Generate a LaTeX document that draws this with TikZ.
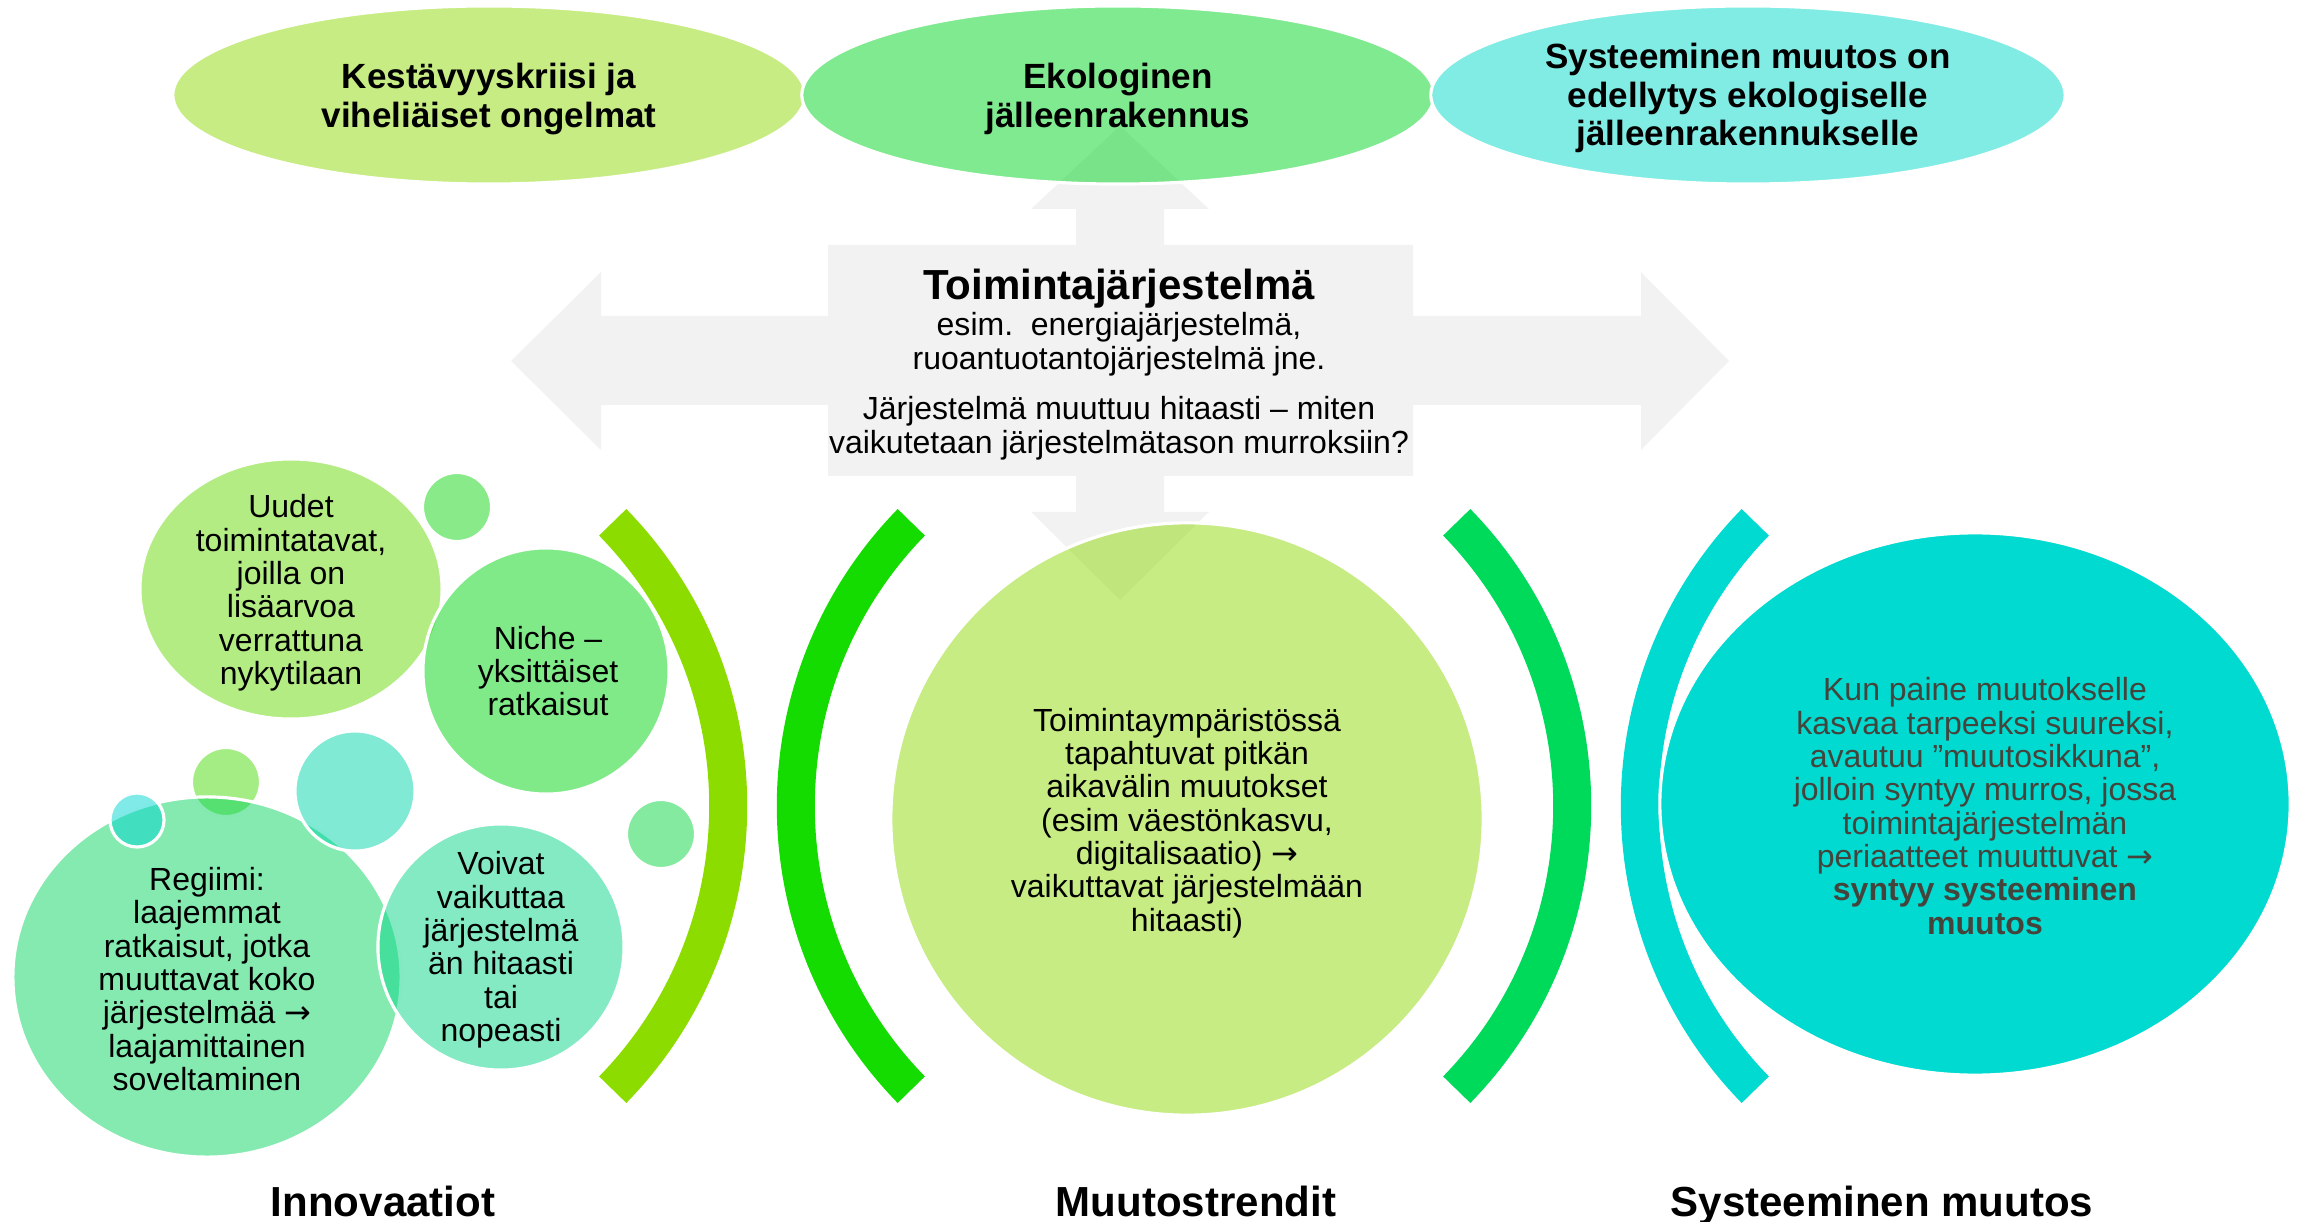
\documentclass[tikz,border=0pt]{standalone}
\usepackage{fontspec}
\setmainfont{Liberation Sans}
\newfontfamily\arrowfont{DejaVu Sans}
\newcommand\toarrow{{\arrowfont →}}
\usetikzlibrary{calc}
\definecolor{crossgray}{RGB}{242,242,242}
\definecolor{limefill}{RGB}{145,217,9}
\definecolor{greenfill}{RGB}{1,213,33}
\definecolor{aquafill}{RGB}{1,217,201}
\definecolor{newfill}{RGB}{105,217,9}
\definecolor{nichefill}{RGB}{1,213,17}
\definecolor{regimefill}{RGB}{9,213,97}
\definecolor{impactfill}{RGB}{9,213,137}
\definecolor{dotgreen}{RGB}{17,213,17}
\definecolor{dotlime}{RGB}{73,217,9}
\definecolor{dotcyan}{RGB}{1,213,209}
\definecolor{dotaqua}{RGB}{1,213,169}
\definecolor{dotmint}{RGB}{9,213,65}
\definecolor{arcone}{RGB}{140,220,0}
\definecolor{arctwo}{RGB}{20,220,0}
\definecolor{arcthree}{RGB}{0,218,90}
\definecolor{arcfour}{RGB}{0,218,208}
\definecolor{darktext}{RGB}{68,68,60}

\begin{document}
\begin{tikzpicture}[x=0.01cm, y=-0.01cm,
    bubble/.style = {fill opacity=0.5, draw=white, line width=0.9pt},
    toptext/.style = {align=center, font=\bfseries\fontsize{9.96}{10.9}\selectfont},
    boxtext/.style = {align=center, font=\fontsize{9.1}{9.7}\selectfont},
    bodytext/.style = {align=center, font=\fontsize{9.1}{9.48}\selectfont},
    heading/.style = {font=\bfseries\fontsize{11.95}{13}\selectfont}]

  \useasboundingbox (0,0) rectangle (2303,1222);

  \fill[crossgray] (511,361) -- (601,272) -- (601,316) -- (828,316) -- (828,245)
    -- (1076,245) -- (1076,209) -- (1031,209) -- (1120,126) -- (1209,209)
    -- (1164,209) -- (1164,245) -- (1413,245) -- (1413,316) -- (1641,316)
    -- (1641,272) -- (1729,361) -- (1641,450) -- (1641,405) -- (1413,405)
    -- (1413,476) -- (1164,476) -- (1164,512) -- (1209,512) -- (1120,600)
    -- (1031,512) -- (1076,512) -- (1076,476) -- (828,476) -- (828,405)
    -- (601,405) -- (601,450) -- cycle;

  \path[bubble, fill=limefill]  (489,95)  ellipse [x radius=3.16cm, y radius=0.89cm];
  \path[bubble, fill=greenfill] (1118,95) ellipse [x radius=3.16cm, y radius=0.89cm];
  \path[bubble, fill=aquafill]  (1748,95) ellipse [x radius=3.17cm, y radius=0.89cm];
  \path[bubble, fill=limefill]  (1187,819) circle [radius=2.96cm];

  \path[bubble, fill=newfill]    (291,589) ellipse [x radius=1.51cm, y radius=1.30cm];
  \path[bubble, fill=dotgreen]   (457,507) circle [radius=0.345cm];
  \path[bubble, fill=nichefill]  (546,671) circle [radius=1.23cm];
  \path[bubble, fill=dotlime]    (226,782) circle [radius=0.345cm];
  \path[bubble, fill=regimefill] (207,977) ellipse [x radius=1.94cm, y radius=1.80cm];
  \path[bubble, fill=dotcyan]    (137,820) circle [radius=0.27cm];
  \path[bubble, fill=dotaqua]    (355,791) circle [radius=0.60cm];
  \path[bubble, fill=impactfill] (501,947) circle [radius=1.23cm];
  \path[bubble, fill=dotmint]    (661,834) circle [radius=0.345cm];

  \foreach \cx/\a/\col in {322/0/arcone, 1202/180/arctwo, 1166/0/arcthree, 2046/180/arcfour}
    \fill[\col] ($(\cx,806)+(\a+44.3:4.25cm)$)
      arc[start angle=\a+44.3, end angle=\a-44.3, radius=4.25cm]
      -- ($(\cx,806)+(\a-44.3:3.87cm)$)
      arc[start angle=\a-44.3, end angle=\a+44.3, radius=3.87cm] -- cycle;

  \path[fill=arcfour, draw=white, line width=0.9pt] (1975,804) ellipse [x radius=3.15cm, y radius=2.71cm];

  \node[toptext] (crisis) at (489,99) {Kestävyyskriisi ja\\viheliäiset ongelmat};
  \node[toptext] (rebuild) at (1118,99) {Ekologinen\\jälleenrakennus};
  \node[toptext] (premise) at (1748,98) {Systeeminen muutos on\\edellytys ekologiselle\\jälleenrakennukselle};

  \node[heading] (system) at (1119,289) {Toimintajärjestelmä};
  \node[boxtext] (examples) at (1119,344) {esim.\ \ energiajärjestelmä,\\ruoantuotantojärjestelmä jne.};
  \node[boxtext] (question) at (1119,428) {Järjestelmä muuttuu hitaasti – miten\\vaikutetaan järjestelmätason murroksiin?};

  \node[bodytext] (new) at (291,593) {Uudet\\toimintatavat,\\joilla on\\lisäarvoa\\verrattuna\\nykytilaan};
  \node[bodytext] (niche) at (548,671) {Niche –\\yksittäiset\\ratkaisut};
  \node[bodytext] (regime) at (207,979) {Regiimi:\\laajemmat\\ratkaisut, jotka\\muuttavat koko\\järjestelmää \toarrow\\laajamittainen\\soveltaminen};
  \node[bodytext] (impact) at (501,950) {Voivat\\vaikuttaa\\järjestelmä\\än hitaasti\\tai\\nopeasti};
  \node[bodytext] (trends) at (1187,823) {Toimintaympäristössä\\tapahtuvat pitkän\\aikavälin muutokset\\(esim väestönkasvu,\\digitalisaatio) \toarrow\\vaikuttavat järjestelmään\\hitaasti)};
  \node[bodytext, text=darktext] (window) at (1985,806) {Kun paine muutokselle\\kasvaa tarpeeksi suureksi,\\avautuu ”muutosikkuna”,\\jolloin syntyy murros, jossa\\toimintajärjestelmän\\periaatteet muuttuvat \toarrow\\\textbf{syntyy systeeminen}\\\textbf{muutos}};

  \node[heading, anchor=base] (innovations) at (383,1216) {Innovaatiot};
  \node[heading, anchor=base] (trendhead) at (1196,1216) {Muutostrendit};
  \node[heading, anchor=base] (systemhead) at (1882,1216) {Systeeminen muutos};
\end{tikzpicture}
\end{document}
